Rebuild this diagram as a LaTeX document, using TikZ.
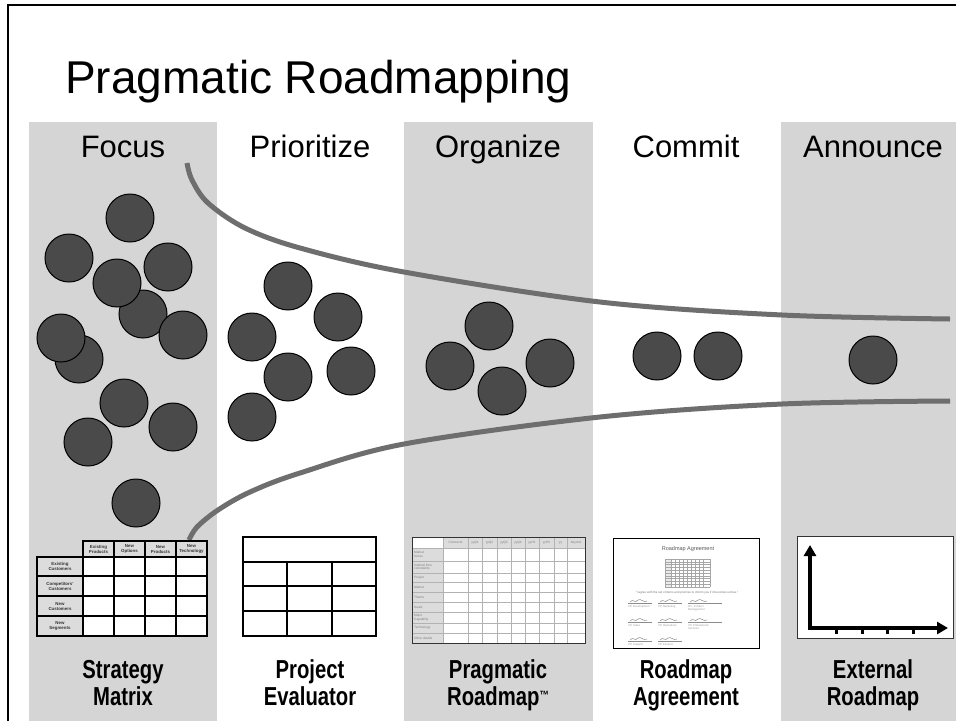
\documentclass[tikz,border=0pt]{standalone}
\usepackage{fontspec}
\setmainfont{Liberation Sans}
\newfontfamily\narrowbold[FakeStretch=0.78]{Liberation Sans Bold}
\usetikzlibrary{arrows.meta}
\definecolor{bandgray}{HTML}{D5D5D5}
\definecolor{ballgray}{HTML}{4A4A4A}
\definecolor{funnelgray}{HTML}{6E6E6E}
\definecolor{cellgray}{HTML}{DCDCDC}
\definecolor{faint}{HTML}{9A9A9A}
\begin{document}
\begin{tikzpicture}[x=1pt,y=-1pt,
  ball/.style={circle,draw=black,line width=1pt,fill=ballgray,minimum size=48pt,inner sep=0pt},
  phase/.style={font=\fontsize{31}{31}\selectfont,anchor=base,inner sep=0pt},
  caption/.style={font=\narrowbold\fontsize{26}{26}\selectfont,anchor=base,inner sep=0pt},
  band/.style={fill=bandgray,draw=none},
  funnel/.style={draw=funnelgray,line width=5pt},
  smcell/.style={font=\fontsize{4.4}{5}\selectfont\bfseries,align=center,inner sep=0pt,text=black!80},
  rmtxt/.style={font=\fontsize{2.8}{3.2}\selectfont,align=left,inner sep=0pt,text=faint},
  agtxt/.style={font=\fontsize{2.8}{3.2}\selectfont,align=left,inner sep=0pt,text=faint,anchor=north west}]
\useasboundingbox (0,0) rectangle (956,721);
\fill[white] (0,0) rectangle (956,721);
% bands
\path[band] (29,122) rectangle (217,721);
\path[band] (404,122) rectangle (593,721);
\path[band] (781,122) rectangle (956,721);
% frame
\draw[line width=2pt] (8,721) -- (8,5) -- (956,5);
% title
\node[font=\fontsize{46}{46}\selectfont,anchor=base west,inner sep=0pt] (title) at (65,93) {Pragmatic Roadmapping};
% phase headers
\node[phase] (hfocus) at (123,157) {Focus};
\node[phase] (hprio) at (310,157) {Prioritize};
\node[phase] (horg) at (498,157) {Organize};
\node[phase] (hcommit) at (686,157) {Commit};
\node[phase] (hann) at (873,157) {Announce};
% funnel curves
\draw[funnel] plot[smooth,tension=0.55] coordinates {(187,163) (192,180) (208,203) (245,228) (300,248) (404,272) (600,302) (782,315) (950,319)};
\draw[funnel] plot[smooth,tension=0.55] coordinates {(189,540) (197,527) (218,510) (250,492) (300,473) (404,444) (600,417) (782,404) (950,401)};
% focus balls
\node[ball] (f1) at (130,218) {};
\node[ball] (f2) at (69,258) {};
\node[ball] (f3) at (168,267) {};
\node[ball] (f4) at (143,314) {};
\node[ball] (f5) at (117,283) {};
\node[ball] (f6) at (183,335) {};
\node[ball] (f7) at (79,359) {};
\node[ball] (f8) at (61,338) {};
\node[ball] (f9) at (124,403) {};
\node[ball] (f10) at (173,427) {};
\node[ball] (f11) at (88,442) {};
\node[ball] (f12) at (136,503) {};
% prioritize balls
\node[ball] (p1) at (288,286) {};
\node[ball] (p2) at (338,317) {};
\node[ball] (p3) at (252,337) {};
\node[ball] (p4) at (288,377) {};
\node[ball] (p5) at (351,371) {};
\node[ball] (p6) at (252,417) {};
% organize balls
\node[ball] (o1) at (489,326) {};
\node[ball] (o2) at (450,366) {};
\node[ball] (o3) at (550,363) {};
\node[ball] (o4) at (502,391) {};
% commit balls
\node[ball] (c1) at (657,356) {};
\node[ball] (c2) at (718,356) {};
% announce ball
\node[ball] (a1) at (873,360) {};
% ---------- Strategy matrix
\foreach \xa/\xb/\t [count=\i] in {83/114/{Existing\\Products},114/145/{New\\Options},145/176/{New\\Products},176/207/{New\\Technology}} {
  \draw[fill=cellgray,line width=1.2pt] (\xa,541) rectangle (\xb,557);
  \node[smcell] (smh\i) at ({(\xa+\xb)/2},549) {\t};
}
\foreach \ya/\yb/\t [count=\j] in {557/576/{Existing\\Customers},576/596/{Competitors'\\Customers},596/616/{New\\Customers},616/636/{New\\Segments}} {
  \draw[fill=cellgray,line width=1.2pt] (37,\ya) rectangle (83,\yb);
  \node[smcell] (smr\j) at (60,{(\ya+\yb)/2}) {\t};
  \foreach \xa/\xb in {83/114,114/145,145/176,176/207} {
    \draw[fill=white,line width=1.2pt] (\xa,\ya) rectangle (\xb,\yb);
  }
}
% ---------- Project evaluator
\draw[fill=white,line width=1.5pt] (243,537) rectangle (376,636);
\foreach \y in {562,586,611} \draw[line width=1.3pt] (243,\y) -- (376,\y);
\foreach \x in {287,332} \draw[line width=1.3pt] (\x,562) -- (\x,636);
% ---------- Pragmatic roadmap table
\fill[white] (412,537) rectangle (585,643);
\fill[cellgray] (443,537) rectangle (585,548);
\fill[cellgray] (412,548) rectangle (443,643);
\foreach \y in {548,561,573,582,592,602,612,623,633} \draw[black!30,line width=0.8pt] (412,\y) -- (585,\y);
\foreach \x in {443,468,482,497,511,525,539,554,567} \draw[black!30,line width=0.8pt] (\x,537) -- (\x,643);
\draw[black!80,line width=1pt] (412,537) rectangle (585,643);
\foreach \xa/\xb/\t [count=\i] in {443/468/Contracts,468/482/yyQ1,482/497/yyQ2,497/511/yyQ3,511/525/yyQ4,525/539/yyH1,539/554/yyH2,554/567/yy,567/585/beyond}
  \node[rmtxt,align=center,font=\fontsize{3.2}{3.6}\selectfont,text=black!50] (rmh\i) at ({(\xa+\xb)/2},542.5) {\t};
\foreach \ya/\yb/\t [count=\j] in {548/561/{Market\\forces},561/573/{Internal time\\constraints},573/582/Project,582/592/Market,592/602/Theme,602/612/Goals,612/623/{Major\\Capability},623/633/Technology,633/643/Other details}
  \node[rmtxt,anchor=west,font=\fontsize{3.2}{3.6}\selectfont,text=black!50] (rmr\j) at (414,{(\ya+\yb)/2}) {\t};
% ---------- Roadmap agreement
\draw[fill=white,line width=1pt] (613,538) rectangle (759,648);
\node[font=\fontsize{5.5}{6}\selectfont,text=black!65,inner sep=0pt] (agt) at (688,549) {Roadmap Agreement};
\fill[black!8] (665,559) rectangle (671,587);
\foreach \y in {559,561.8,564.6,567.4,570.2,573,575.8,578.6,581.4,584.2,587} \draw[black!35,line width=0.3pt] (665,\y) -- (710,\y);
\foreach \x in {665,671,675,679,683,687,691,695,699,703,710} \draw[black!35,line width=0.3pt] (\x,559) -- (\x,587);
\node[font=\fontsize{3}{3.4}\selectfont,text=black!55,inner sep=0pt] (agq) at (687,593) {``I agree with the set of items and promise to inform you if it becomes untrue.''};
\foreach \x/\y/\w/\t [count=\k] in {628/601/24/{VP, Development},658/601/24/{VP, Marketing},688/601/34/{Dir., Product\\Management},628/620/24/{VP, Sales},658/620/24/{VP, Operations},688/620/34/{VP, Professional\\Services},628/639/24/{VP, Support},658/639/24/{VP, Finance}} {
  \draw[black!45,line width=0.4pt] (\x,\y+2) -- (\x+\w,\y+2);
  \draw[black!55,line width=0.4pt] (\x+2,\y+1) .. controls (\x+5,\y-3) and (\x+7,\y+3) .. (\x+10,\y-1) .. controls (\x+13,\y-3) and (\x+15,\y+2) .. (\x+19,\y);
  \node[agtxt] (sig\k) at (\x,\y+4) {\t};
}
% ---------- External roadmap chart
\draw[fill=white,draw=black!80,line width=1pt] (797,536) rectangle (953,638);
\coordinate (origin) at (810,628);
\coordinate (ytip) at (810,545);
\coordinate (xtip) at (948,628);
\draw[line width=4pt,-{Triangle[length=11pt,width=12pt]}] ([yshift=-2pt]origin) -- (ytip);
\draw[line width=4pt,-{Triangle[length=11pt,width=12pt]}] ([xshift=-2pt]origin) -- (xtip);
\foreach \x in {836,862,887,913} \draw[line width=3pt] (\x,628) -- (\x,634);
% captions
\node[caption] (cap1a) at (123,678) {Strategy};
\node[caption] (cap1b) at (123,705) {Matrix};
\node[caption] (cap2a) at (310,678) {Project};
\node[caption] (cap2b) at (310,705) {Evaluator};
\node[caption] (cap3a) at (498,678) {Pragmatic};
\node[caption] (cap3b) at (498,705) {Roadmap{\fontsize{12}{12}\selectfont\raisebox{6pt}{™}}};
\node[caption] (cap4a) at (686,678) {Roadmap};
\node[caption] (cap4b) at (686,705) {Agreement};
\node[caption] (cap5a) at (873,678) {External};
\node[caption] (cap5b) at (873,705) {Roadmap};
\end{tikzpicture}
\end{document}
